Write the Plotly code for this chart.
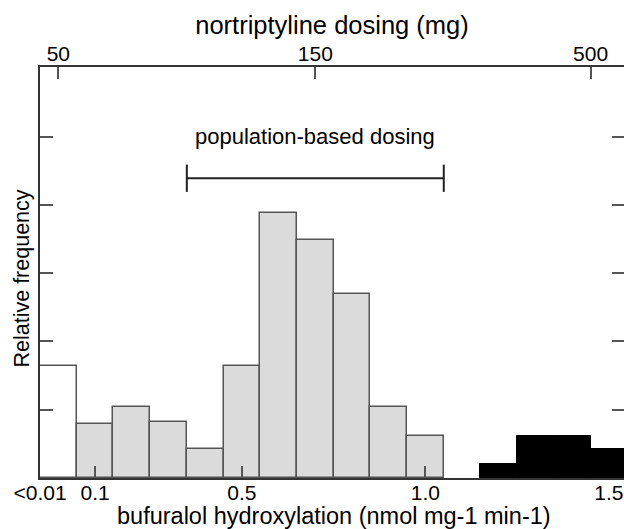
import plotly.graph_objects as go

# ---- data ----
bin_width = 0.1
low_x = [0.0]
low_vals = [1.64]
mid_x = [0.1, 0.2, 0.3, 0.4, 0.5, 0.6, 0.7, 0.8, 0.9, 1.0]
mid_vals = [0.79, 1.04, 0.82, 0.42, 1.64, 3.88, 3.48, 2.69, 1.04, 0.61]
high_x = [1.2, 1.3, 1.4, 1.5]
high_vals = [0.20, 0.61, 0.61, 0.42]

bottom_tickvals = [-0.05, 0.1, 0.5, 1.0, 1.5]
bottom_ticktext = ["<0.01", "0.1", "0.5", "1.0", "1.5"]
bottom_tickmarks = [0.1, 0.5, 1.0]
top_tickvals = [0.0, 0.7, 1.45]
top_ticktext = ["50", "150", "500"]
y_ticks = [1, 2, 3, 4, 5]

dosing_range = [0.35, 1.05]
dosing_level = 4.39
cap_half = 0.2
dosing_label = "population-based dosing"
label_level = 5.0

x_range = [-0.05, 1.541]
y_range = [0, 6.02]

FONT = "Liberation Sans, Arial, sans-serif"
EDGE = "#555555"

fig = go.Figure()
fig.add_trace(go.Bar(x=low_x, y=low_vals, width=bin_width, marker=dict(color="white", line=dict(color=EDGE, width=1.5))))
fig.add_trace(go.Bar(x=mid_x, y=mid_vals, width=bin_width, marker=dict(color="#dbdbdb", line=dict(color=EDGE, width=1.5))))
fig.add_trace(go.Bar(x=high_x, y=high_vals, width=bin_width, marker=dict(color="black", line=dict(color="black", width=1))))

# dosing bracket
bx = [dosing_range[0], dosing_range[1], None,
      dosing_range[0], dosing_range[0], None,
      dosing_range[1], dosing_range[1]]
by = [dosing_level, dosing_level, None,
      dosing_level - cap_half, dosing_level + cap_half, None,
      dosing_level - cap_half, dosing_level + cap_half]
fig.add_trace(go.Scatter(x=bx, y=by, mode="lines", line=dict(color="#222222", width=2), hoverinfo="skip"))

# invisible traces for overlay axes
fig.add_trace(go.Scatter(x=[0], y=[0], xaxis="x2", yaxis="y", mode="markers", marker=dict(opacity=0), hoverinfo="skip"))
fig.add_trace(go.Scatter(x=[0], y=[0], xaxis="x3", yaxis="y", mode="markers", marker=dict(opacity=0), hoverinfo="skip"))
fig.add_trace(go.Scatter(x=[0], y=[0], xaxis="x", yaxis="y2", mode="markers", marker=dict(opacity=0), hoverinfo="skip"))

fig.add_annotation(x=sum(dosing_range) / 2, y=label_level, text=dosing_label, showarrow=False,
                   font=dict(size=22, color="black", family=FONT))
fig.add_annotation(x=0, y=0.5, xref="paper", yref="paper", xshift=-19, yshift=-6,
                   text="Relative frequency", textangle=-90, showarrow=False,
                   xanchor="center", yanchor="middle",
                   font=dict(size=21.5, color="black", family=FONT))
fig.add_annotation(x=0.5, y=0, xref="paper", yref="paper", xshift=2, yshift=-38,
                   text="bufuralol hydroxylation (nmol mg-1 min-1)", showarrow=False,
                   xanchor="center", yanchor="middle",
                   font=dict(size=23.5, color="black", family=FONT))

fig.update_layout(
    width=624, height=529,
    margin=dict(l=40, r=0, t=67, b=51),
    paper_bgcolor="white", plot_bgcolor="white",
    showlegend=False, bargap=0,
    font=dict(family=FONT, color="black", size=21),
    xaxis=dict(range=x_range, tickvals=bottom_tickvals, ticktext=bottom_ticktext, ticks="",
               showline=True, linecolor="#333333", linewidth=1.5, showgrid=False, zeroline=False,
               tickfont=dict(size=21), ticklabelstandoff=-5, automargin=False),
    xaxis2=dict(range=x_range, overlaying="x", side="top", tickvals=top_tickvals, ticktext=top_ticktext,
                ticks="inside", ticklen=12, tickcolor=EDGE, tickwidth=1.5, automargin=False,
                ticklabelstandoff=-4,
                showline=True, linecolor="#333333", linewidth=1.5, showgrid=False, zeroline=False,
                tickfont=dict(size=21),
                title=dict(text="nortriptyline dosing (mg)", font=dict(size=25.5), standoff=0)),
    xaxis3=dict(range=x_range, overlaying="x", side="bottom", tickvals=bottom_tickmarks,
                ticks="inside", ticklen=12, tickcolor=EDGE, tickwidth=1.5, showticklabels=False,
                showline=False, showgrid=False, zeroline=False, automargin=False),
    yaxis=dict(range=y_range, tickvals=y_ticks, ticks="inside", ticklen=13, tickcolor=EDGE, tickwidth=1.5,
               showticklabels=False, showline=True, linecolor="#333333", linewidth=1.5,
               showgrid=False, zeroline=False, automargin=False),
    yaxis2=dict(range=y_range, overlaying="y", side="right", tickvals=y_ticks, ticks="inside", ticklen=12,
                tickcolor=EDGE, tickwidth=1.5, showticklabels=False, showline=False,
                showgrid=False, zeroline=False, automargin=False),
)

fig.write_html("out.html", config={"displayModeBar": False},
               post_script="document.body.style.margin='0';")
